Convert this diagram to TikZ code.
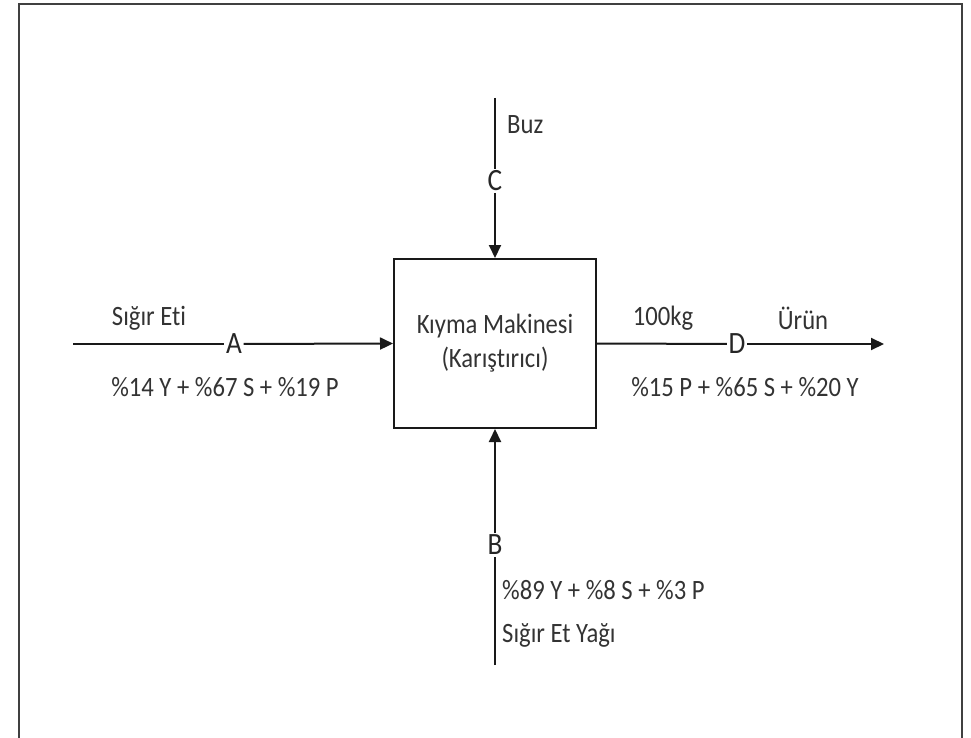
\documentclass[tikz,border=0pt]{standalone}
\usepackage{fontspec}
\setmainfont{Carlito}[FakeStretch=0.88, Ligatures=NoCommon]
\usetikzlibrary{arrows.meta}
\tikzset{
  lbl/.style={font=\fontsize{28}{32}\selectfont, text=black!80, inner sep=0pt},
  letter/.style={font=\fontsize{31}{34}\selectfont, text=black!85, inner sep=1.5pt},
  flow/.style={line width=2pt, black!90},
  arr/.style={flow, -{Triangle[length=13pt,width=12pt]}},
  machine/.style={draw=black!90, line width=2pt, minimum width=202pt, minimum height=169pt, align=center, font=\fontsize{28}{34}\selectfont, text=black!80}
}
\begin{document}
\begin{tikzpicture}[x=1pt,y=-1pt]
\useasboundingbox (0,0) rectangle (971,738);
\draw[line width=2pt, black!75] (18.5,738) -- (18.5,4.5) -- (962,4.5) -- (962,738);

\node[machine] (box) at (495,343.5) {Kıyma Makinesi\\(Karıştırıcı)};

% A
\coordinate (aStart) at (73,344);
\node[letter] (A) at (234,344) {A};
\draw[flow] (aStart) -- (A);
\draw[arr] (A) -- (box.west);
\node[lbl] (aName) at (149,318) {Sığır Eti};
\node[lbl] (aComp) at (225,387) {\%14 Y + \%67 S + \%19 P};

% D
\node[letter] (D) at (737,344) {D};
\coordinate (dEnd) at (884,344);
\draw[flow] (box.east) -- (D);
\draw[arr] (D) -- (dEnd);
\node[lbl] (dMass) at (663,318) {100kg};
\node[lbl] (dName) at (803,318) {Ürün};
\node[lbl] (dComp) at (745,387) {\%15 P + \%65 S + \%20 Y};

% C
\coordinate (cTop) at (495,98);
\node[letter] (C) at (495,181) {C};
\draw[flow] (cTop) -- (C);
\draw[arr] (C) -- (box.north);
\node[lbl, anchor=west] (cName) at (507,125) {Buz};

% B
\node[letter] (B) at (495,545) {B};
\coordinate (bBottom) at (495,665);
\draw[arr] (B) -- (box.south);
\draw[flow] (bBottom) -- (B);
\node[lbl, anchor=west] (bComp) at (502,590) {\%89 Y + \%8 S + \%3 P};
\node[lbl, anchor=west] (bName) at (502,635) {Sığır Et Yağı};
\end{tikzpicture}
\end{document}
